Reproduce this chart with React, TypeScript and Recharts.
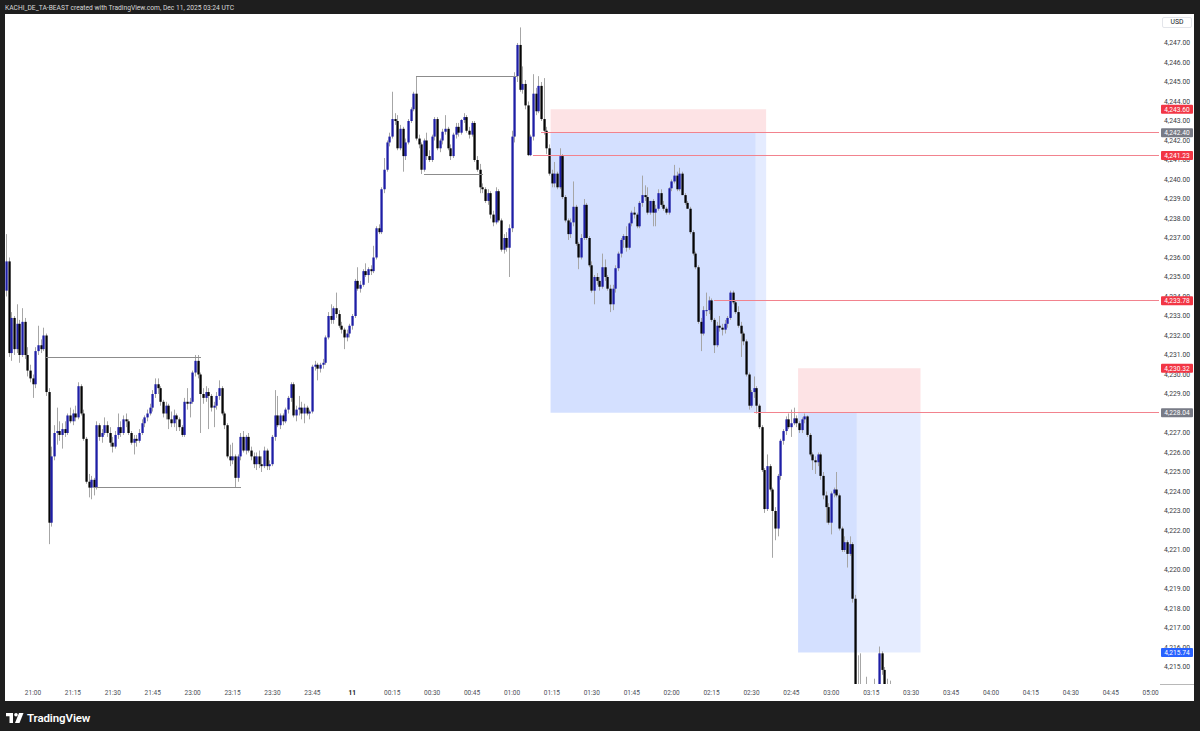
import React from 'react';
import { ComposedChart, Bar, XAxis, YAxis, ReferenceArea, ReferenceLine } from 'recharts';

type C = [number, number, number, number]; // open, high, low, close

// 1-minute candles, bar index -10 = 20:50
const bars2050: C[] = [
  [4234.3,4237.2,4234.0,4235.8],[4235.8,4236.0,4230.9,4231.1],[4231.1,4233.2,4230.7,4232.9],[4232.9,4233.0,4231.0,4231.3],
  [4231.3,4233.6,4231.1,4232.6],[4232.6,4232.8,4230.6,4231.0],[4231.0,4233.4,4230.9,4232.7],[4232.7,4232.9,4230.8,4231.0],
  [4231.0,4231.4,4229.9,4230.2],[4230.2,4230.5,4229.6,4229.8],
];
const bars2100: C[] = [
  [4229.8,4230.0,4228.8,4229.5],[4229.5,4231.4,4229.3,4231.2],[4231.2,4232.5,4231.0,4231.5],[4231.5,4231.8,4231.1,4231.3],
  [4231.3,4232.4,4231.2,4232.0],[4232.0,4232.1,4228.9,4229.1],[4229.1,4229.3,4221.3,4222.4],[4222.4,4226.3,4222.2,4225.8],
  [4225.8,4227.4,4225.6,4227.0],[4227.0,4228.3,4226.4,4227.1],[4227.1,4227.6,4226.6,4226.9],[4226.9,4227.5,4226.2,4227.2],
  [4227.2,4227.6,4226.8,4227.0],[4227.0,4228.0,4226.9,4227.9],[4227.9,4228.3,4227.5,4227.6],[4227.6,4228.2,4227.4,4228.0],
  [4228.0,4228.4,4227.6,4227.8],[4227.8,4229.6,4227.7,4229.4],[4229.4,4229.5,4227.9,4228.0],[4228.0,4228.2,4226.6,4226.7],
  [4226.7,4226.8,4224.4,4224.5],[4224.5,4224.9,4223.7,4224.2],[4224.2,4224.8,4223.6,4224.6],[4224.6,4224.7,4223.8,4224.2],
  [4224.2,4227.6,4224.1,4227.4],[4227.4,4227.5,4226.6,4226.8],[4226.8,4227.2,4226.5,4227.0],[4227.0,4227.8,4226.9,4227.4],
  [4227.4,4227.6,4226.8,4227.0],[4227.0,4227.3,4226.3,4226.5],[4226.5,4226.8,4226.0,4226.3],[4226.3,4227.1,4226.2,4226.9],
  [4226.9,4228.0,4226.7,4227.3],[4227.3,4227.6,4226.8,4227.0],[4227.0,4227.9,4226.9,4227.7],[4227.7,4228.0,4227.3,4227.6],
  [4227.6,4227.7,4226.9,4227.0],[4227.0,4227.1,4226.4,4226.5],[4226.5,4226.9,4225.9,4226.7],[4226.7,4226.9,4226.3,4226.6],
  [4226.6,4227.2,4226.5,4227.0],[4227.0,4227.7,4226.9,4227.5],[4227.5,4227.9,4227.3,4227.8],[4227.8,4228.2,4227.6,4228.0],
  [4228.0,4228.5,4227.9,4228.3],[4228.3,4229.2,4228.1,4229.0],[4229.0,4229.8,4228.8,4229.5],[4229.5,4229.8,4229.0,4229.3],
  [4229.3,4229.4,4228.4,4228.6],[4228.6,4228.7,4227.8,4228.0],[4228.0,4228.6,4227.7,4228.4],[4228.4,4228.5,4227.2,4227.7],
  [4227.7,4228.1,4227.3,4227.5],[4227.5,4228.2,4227.3,4227.9],[4227.9,4228.0,4227.1,4227.7],[4227.7,4227.8,4227.1,4227.3],
  [4227.3,4227.4,4226.8,4226.9],[4226.9,4228.8,4226.8,4228.6],[4228.6,4229.3,4228.2,4228.5],[4228.5,4228.8,4227.8,4228.6],
];
const bars2300: C[] = [
  [4228.6,4230.2,4228.5,4230.1],[4230.1,4231.0,4229.9,4230.7],[4230.7,4231.0,4229.8,4230.0],[4230.0,4230.1,4227.0,4229.0],
  [4229.0,4229.3,4228.5,4228.8],[4228.8,4229.4,4228.6,4229.1],[4229.1,4229.3,4227.2,4228.9],[4228.9,4229.0,4228.1,4228.3],
  [4228.3,4228.6,4227.3,4228.4],[4228.4,4229.1,4228.2,4228.9],[4228.9,4229.7,4228.7,4229.3],[4229.3,4229.4,4227.9,4228.0],
  [4228.0,4228.1,4227.2,4227.4],[4227.4,4227.5,4225.7,4225.8],[4225.8,4226.4,4225.3,4225.6],[4225.6,4226.5,4225.4,4225.8],
  [4225.8,4225.9,4224.2,4224.7],[4224.7,4225.9,4224.5,4225.8],[4225.8,4227.0,4225.6,4226.8],[4226.8,4227.1,4226.0,4226.1],
  [4226.1,4226.9,4225.9,4226.8],[4226.8,4227.0,4226.0,4226.1],[4226.1,4226.3,4225.6,4225.8],[4225.8,4226.0,4225.2,4225.4],
  [4225.4,4226.0,4225.1,4225.8],[4225.8,4226.1,4225.2,4225.4],[4225.4,4225.8,4225.0,4225.3],[4225.3,4226.3,4225.2,4226.1],
  [4226.1,4226.2,4225.1,4225.3],[4225.3,4225.6,4225.1,4225.4],[4225.4,4226.9,4225.3,4226.8],[4226.8,4229.2,4226.6,4227.9],
  [4227.9,4228.9,4227.3,4227.4],[4227.4,4228.0,4227.2,4227.9],[4227.9,4228.0,4227.4,4227.6],[4227.6,4228.3,4227.5,4228.2],
  [4228.2,4228.9,4228.0,4228.8],[4228.8,4229.6,4228.6,4229.5],[4229.5,4229.6,4227.8,4227.9],[4227.9,4228.4,4227.6,4228.2],
  [4228.2,4228.9,4227.9,4228.3],[4228.3,4228.6,4227.7,4228.0],[4228.0,4228.5,4227.5,4228.3],[4228.3,4228.4,4227.9,4228.0],
  [4228.0,4228.2,4227.7,4228.1],[4228.1,4230.5,4228.0,4230.4],[4230.4,4230.7,4230.2,4230.5],[4230.5,4230.6,4229.7,4230.3],
  [4230.3,4230.6,4230.1,4230.5],[4230.5,4230.8,4230.3,4230.6],[4230.6,4232.0,4230.5,4231.9],[4231.9,4233.2,4231.8,4233.0],
  [4233.0,4233.6,4232.6,4232.8],[4232.8,4233.5,4232.6,4233.4],[4233.4,4234.2,4232.9,4233.1],[4233.1,4233.3,4232.4,4232.5],
  [4232.5,4232.7,4232.1,4232.3],[4232.3,4232.4,4231.3,4231.9],[4231.9,4232.3,4231.7,4232.1],[4232.1,4232.6,4231.9,4232.5],
];
const bars0000: C[] = [
  [4232.5,4233.1,4232.3,4233.0],[4233.0,4234.9,4232.9,4234.8],[4234.8,4235.5,4234.3,4234.4],[4234.4,4234.8,4234.2,4234.6],
  [4234.6,4235.4,4234.5,4235.3],[4235.3,4235.7,4235.0,4235.1],[4235.1,4235.5,4234.7,4235.4],[4235.4,4235.6,4235.1,4235.3],
  [4235.3,4236.6,4235.2,4236.0],[4236.0,4237.6,4235.9,4237.5],[4237.5,4237.7,4237.2,4237.3],[4237.3,4239.6,4237.2,4239.5],
  [4239.5,4241.1,4239.3,4240.5],[4240.5,4242.0,4240.4,4241.9],[4241.9,4242.4,4241.7,4242.2],[4242.2,4244.5,4242.1,4243.1],
  [4243.1,4243.4,4242.8,4243.0],[4243.0,4243.3,4241.5,4241.6],[4241.6,4242.8,4241.5,4242.6],[4242.6,4242.7,4240.4,4241.2],
  [4241.2,4242.1,4241.0,4241.9],[4241.9,4243.1,4241.8,4243.0],[4243.0,4243.7,4242.9,4243.6],[4243.6,4244.5,4243.5,4244.4],
  [4244.4,4245.26,4242.0,4242.1],[4242.1,4242.3,4241.6,4241.8],[4241.8,4241.9,4240.28,4240.5],[4240.5,4242.1,4240.4,4242.0],
  [4242.0,4242.4,4241.0,4241.2],[4241.2,4241.5,4240.9,4241.0],[4241.0,4242.3,4240.9,4242.2],[4242.2,4243.2,4242.0,4243.1],
  [4243.1,4243.2,4241.5,4241.6],[4241.6,4242.1,4241.4,4242.0],[4242.0,4242.6,4241.8,4242.45],[4242.45,4243.3,4242.3,4242.6],
  [4242.6,4242.7,4241.5,4241.6],[4241.6,4241.8,4241.0,4241.2],[4241.2,4242.4,4241.1,4242.3],[4242.3,4242.9,4242.1,4242.7],
  [4242.7,4242.9,4242.2,4242.4],[4242.4,4243.1,4242.3,4243.05],[4243.05,4243.4,4242.9,4243.2],[4243.2,4243.3,4242.4,4242.5],
  [4242.5,4242.7,4242.1,4242.3],[4242.3,4243.0,4242.2,4242.9],[4242.9,4243.0,4240.9,4241.0],[4241.0,4241.2,4240.4,4240.5],
  [4240.5,4240.8,4239.3,4239.6],[4239.6,4239.8,4239.3,4239.5],[4239.5,4239.6,4238.8,4238.9],[4238.9,4239.5,4238.7,4239.3],
  [4239.3,4239.4,4238.0,4238.2],[4238.2,4238.4,4237.6,4237.8],[4237.8,4239.6,4237.7,4239.4],[4239.4,4239.5,4237.8,4237.9],
  [4237.9,4238.0,4236.3,4236.4],[4236.4,4237.2,4236.2,4237.0],[4237.0,4237.3,4236.3,4236.5],[4236.5,4237.7,4235.0,4237.5],
];
const bars0100: C[] = [
  [4237.5,4242.5,4237.3,4242.2],[4242.2,4245.5,4241.9,4245.3],[4245.3,4247.0,4245.0,4246.9],[4246.9,4247.8,4244.5,4244.6],
  [4244.6,4245.8,4244.4,4244.9],[4244.9,4245.1,4243.6,4243.8],[4243.8,4244.0,4241.2,4241.25],[4241.25,4242.3,4241.2,4242.2],
  [4242.2,4245.4,4242.0,4244.4],[4244.4,4244.7,4243.3,4243.5],[4243.5,4245.3,4243.4,4244.8],[4244.8,4245.0,4243.0,4243.1],
  [4243.1,4245.2,4242.3,4242.5],[4242.5,4242.7,4241.3,4241.6],[4241.6,4241.8,4240.2,4240.3],[4240.3,4240.5,4239.6,4239.8],
  [4239.8,4240.9,4239.6,4240.3],[4240.3,4240.4,4239.5,4239.6],[4239.6,4241.6,4239.5,4241.2],[4241.2,4241.3,4239.0,4239.1],
  [4239.1,4239.2,4237.8,4237.9],[4237.9,4238.0,4236.9,4237.2],[4237.2,4238.0,4237.0,4237.8],[4237.8,4239.9,4237.6,4238.6],
  [4238.6,4238.7,4236.6,4236.7],[4236.7,4236.8,4235.4,4236.0],[4236.0,4237.2,4235.9,4237.0],[4237.0,4239.0,4236.9,4238.7],
  [4238.7,4238.8,4236.9,4237.0],[4237.0,4237.1,4235.5,4235.6],[4235.6,4235.8,4234.2,4234.3],[4234.3,4235.1,4233.6,4235.0],
  [4235.0,4235.2,4234.6,4234.8],[4234.8,4235.0,4234.3,4234.5],[4234.5,4236.2,4234.4,4235.5],[4235.5,4235.9,4234.8,4235.0],
  [4235.0,4235.1,4234.3,4234.4],[4234.4,4234.6,4233.2,4233.6],[4233.6,4234.6,4233.3,4234.4],[4234.4,4235.6,4234.2,4235.45],
  [4235.45,4236.3,4235.3,4236.2],[4236.2,4237.0,4236.0,4236.9],[4236.9,4237.2,4236.5,4237.1],[4237.1,4237.6,4236.3,4236.5],
  [4236.5,4237.8,4236.4,4237.75],[4237.75,4238.4,4237.6,4238.3],[4238.3,4238.6,4238.0,4238.2],[4238.2,4238.3,4237.5,4237.6],
  [4237.6,4238.9,4237.5,4238.8],[4238.8,4240.2,4238.6,4239.2],[4239.2,4239.7,4238.9,4239.1],[4239.1,4239.6,4238.2,4238.3],
  [4238.3,4238.9,4238.2,4238.9],[4238.9,4239.0,4237.6,4238.3],[4238.3,4238.7,4237.6,4238.5],[4238.5,4239.5,4238.4,4239.3],
  [4239.3,4239.5,4238.6,4238.7],[4238.7,4238.9,4238.4,4238.5],[4238.5,4238.6,4238.2,4238.3],[4238.3,4239.6,4238.2,4239.55],
];
const bars0200: C[] = [
  [4239.55,4240.0,4239.4,4239.9],[4239.9,4240.75,4239.8,4240.2],[4240.2,4240.4,4239.4,4239.5],[4239.5,4240.6,4239.4,4240.3],
  [4240.3,4240.4,4239.2,4239.2],[4239.2,4239.3,4238.7,4238.8],[4238.8,4238.9,4238.5,4238.5],[4238.5,4238.6,4237.2,4237.3],
  [4237.3,4237.4,4236.1,4236.2],[4236.2,4236.3,4235.4,4235.5],[4235.5,4235.6,4232.6,4232.7],[4232.7,4232.9,4231.2,4232.1],
  [4232.1,4233.5,4232.0,4233.3],[4233.3,4234.2,4233.0,4233.3],[4233.3,4234.0,4233.1,4233.8],[4233.8,4233.9,4232.7,4232.8],
  [4232.8,4232.9,4231.1,4231.5],[4231.5,4232.7,4231.4,4232.5],[4232.5,4233.0,4232.2,4232.4],[4232.4,4232.6,4232.0,4232.3],
  [4232.3,4232.8,4232.1,4232.6],[4232.6,4233.0,4232.4,4232.9],[4232.9,4234.3,4232.8,4234.2],[4234.2,4234.3,4233.6,4233.7],
  [4233.7,4233.8,4233.1,4233.2],[4233.2,4233.5,4232.4,4232.5],[4232.5,4232.7,4230.9,4232.1],[4232.1,4232.2,4231.5,4231.7],
  [4231.7,4231.8,4229.9,4230.0],[4230.0,4230.1,4228.2,4228.4],[4228.4,4229.2,4228.3,4229.1],[4229.1,4229.9,4228.8,4229.3],
  [4229.3,4229.4,4228.0,4228.4],[4228.4,4228.5,4227.2,4227.3],[4227.3,4227.4,4225.0,4225.1],[4225.1,4225.2,4222.9,4223.1],
  [4223.1,4225.9,4223.0,4225.3],[4225.3,4225.4,4224.0,4224.1],[4224.1,4224.2,4220.6,4223.0],[4223.0,4223.2,4221.5,4222.1],
  [4222.1,4224.9,4221.7,4224.8],[4224.8,4226.7,4224.6,4226.6],[4226.6,4227.2,4226.4,4227.1],[4227.1,4227.85,4226.9,4227.7],
  [4227.7,4228.0,4227.2,4227.3],[4227.3,4228.2,4226.8,4227.5],[4227.5,4228.3,4227.4,4227.75],[4227.75,4227.9,4227.3,4227.5],
  [4227.5,4227.6,4227.0,4227.15],[4227.15,4227.8,4227.0,4227.7],[4227.7,4228.0,4227.5,4227.85],[4227.85,4227.9,4226.8,4226.9],
  [4226.9,4227.0,4225.8,4225.9],[4225.9,4226.0,4225.1,4225.6],[4225.6,4225.8,4224.9,4225.5],[4225.5,4226.0,4225.3,4225.9],
  [4225.9,4226.0,4224.6,4224.8],[4224.8,4225.0,4223.6,4223.8],[4223.8,4224.0,4222.4,4223.2],[4223.2,4223.4,4222.3,4222.4],
];
const bars0300: C[] = [
  [4222.4,4224.0,4221.8,4223.9],[4223.9,4224.2,4223.7,4224.1],[4224.1,4225.0,4223.7,4223.8],[4223.8,4223.9,4222.0,4222.1],
  [4222.1,4222.2,4220.9,4221.0],[4221.0,4221.7,4220.9,4221.4],[4221.4,4221.5,4220.1,4220.8],[4220.8,4221.7,4220.7,4221.3],
  [4221.3,4221.4,4218.3,4218.5],[4218.5,4218.7,4213.0,4213.8],[4213.8,4215.6,4213.5,4214.0],[4214.0,4215.7,4213.6,4213.9],
  [4213.9,4214.1,4213.6,4213.8],[4213.8,4214.5,4213.6,4213.9],[4213.9,4214.1,4213.5,4213.8],[4213.8,4214.0,4213.4,4213.7],
  [4213.7,4214.4,4213.6,4213.9],[4213.9,4214.1,4213.5,4213.8],[4213.8,4216.05,4213.7,4215.7],[4215.7,4215.8,4214.6,4214.85],
  [4214.85,4215.0,4213.8,4214.0],[4214.0,4214.4,4213.8,4214.1],[4214.1,4214.3,4213.7,4213.9],
];

const timeLabels = ['21:00','21:15','21:30','21:45','23:00','23:15','23:30','23:45','11','00:15','00:30','00:45','01:00','01:15','01:30','01:45','02:00','02:15','02:30','02:45','03:00','03:15','03:30','03:45','04:00','04:15','04:30','04:45','05:00'];
const priceTicks = [4215,4216,4217,4218,4219,4220,4221,4222,4223,4224,4225,4226,4227,4228,4229,4230,4231,4232,4233,4234,4235,4236,4237,4238,4239,4240,4241,4242,4243,4244,4245,4246,4247];

// price-scale markers
const levelPrices = [4243.60, 4242.40, 4241.23, 4233.78, 4230.32, 4228.04, 4215.74];
const levelColors = ['#f23645', '#787b86', '#f23645', '#f23645', '#f23645', '#787b86', '#2962ff'];
const levelLineFrom: (number | null)[] = [null, 191, 188, 256, null, 271, null];

// grey horizontal drawings
const drawPrices = [4230.85, 4224.18, 4245.26, 4240.28];
const drawFrom = [5, 23, 144, 147];
const drawTo = [63, 78, 182, 169];

// short-position tools
const posEntry = [4242.40, 4228.04];
const posStop = [4243.60, 4230.32];
const posTarget = [4228.04, 4215.74];
const posFrom = [195, 288];
const posFilledTo = [271, 309];
const posTo = [275, 333];

const FIRST = -10;
const SLOTS = 434;
const Y_MIN = 4214.128;
const Y_MAX = 4248.487;

const allBars: C[] = [...bars2050, ...bars2100, ...bars2300, ...bars0000, ...bars0100, ...bars0200, ...bars0300];
const rows = Array.from({ length: SLOTS }, (_, k) => {
  const i = k + FIRST;
  const b = allBars[k];
  return b ? { i, o: b[0], h: b[1], l: b[2], c: b[3], range: [b[2], b[1]] } : { i };
});

// normal ticks first, the coloured level boxes last so they are painted on top
const axisTicks = [...priceTicks, ...levelPrices];

const fmt = (v: number) => v.toLocaleString('en-US', { minimumFractionDigits: 2, maximumFractionDigits: 2 });

function Candle(props: any) {
  const { x, y, width, height, payload } = props;
  if (!payload || payload.o == null || !isFinite(y) || !isFinite(height)) return null;
  const top = Math.min(y, y + height);
  const bot = Math.max(y, y + height);
  const span = payload.h - payload.l;
  const ppu = span > 0 ? (bot - top) / span : 0;
  const cx = Math.round(x + width / 2 - 0.5);
  const yo = top + (payload.h - payload.o) * ppu;
  const yc = top + (payload.h - payload.c) * ppu;
  const up = payload.c >= payload.o;
  const bTop = Math.min(yo, yc);
  const bH = Math.max(Math.abs(yc - yo), 1);
  return (
    <g>
      <line x1={cx + 0.5} x2={cx + 0.5} y1={top} y2={bot} stroke="#a6a6a6" strokeWidth={1} />
      <rect x={cx - 0.6} y={bTop} width={2.3} height={bH} fill={up ? '#1e1ea6' : '#050505'} />
    </g>
  );
}

const XTick = (props: any) => {
  const v = props.payload?.value;
  if (typeof v !== 'number' || v < 0 || v % 15 !== 0) return <g />;
  const label = timeLabels[v / 15];
  if (!label) return <g />;
  const bold = label === '11';
  return (
    <text x={props.x} y={680.5} textAnchor="middle" fontSize={6.5} fontFamily="Roboto, sans-serif"
      fill={bold ? '#131722' : '#4c4f57'} fontWeight={bold ? 700 : 400}>{label}</text>
  );
};

const YTick = (props: any) => {
  const v = props.payload.value as number;
  const li = levelPrices.indexOf(v);
  if (li >= 0) {
    return (
      <g>
        <rect x={1156} y={props.y - 4.5} width={32} height={9} rx={1} fill={levelColors[li]} />
        <text x={1172} y={props.y + 2.4} textAnchor="middle" fontSize={6.6} fontFamily="Roboto, sans-serif" fill="#ffffff">{fmt(v)}</text>
      </g>
    );
  }
  return (
    <text x={1159} y={props.y + 2.4} fontSize={6.8} fontFamily="Roboto, sans-serif" fill="#3a3d45">{fmt(v)}</text>
  );
};

export default function App() {
  return (
    <div style={{ position: 'fixed', left: 0, top: 0, width: 1200, height: 731, background: '#1e1e1e', overflow: 'hidden', fontFamily: 'Roboto, sans-serif' }}>
      <div style={{ position: 'absolute', left: 5, top: 4, fontSize: 6.7, color: '#d8d8d8', lineHeight: '8px', whiteSpace: 'nowrap' }}>
        KACHI_DE_TA-BEAST created with TradingView.com, Dec 11, 2025 03:24 UTC
      </div>
      <div style={{ position: 'absolute', left: 5, top: 14, width: 1189, height: 687, background: '#ffffff' }}>
        <ComposedChart width={1189} height={687} data={rows} margin={{ top: 0, right: 0, bottom: 0, left: 0 }} barCategoryGap={0} barGap={0}>
          <XAxis dataKey="i" type="category" interval={0} height={17} tickLine={false} axisLine={false} tick={<XTick />} />
          <YAxis orientation="right" width={34} type="number" domain={[Y_MIN, Y_MAX]} allowDataOverflow ticks={axisTicks}
            interval={0} tickLine={false} axisLine={false} tick={<YTick />} />
          <Bar dataKey="range" isAnimationActive={false} shape={<Candle />} />
          {posFrom.map((f, k) => (
            <ReferenceArea key={'s' + k} x1={f} x2={posTo[k]} y1={posEntry[k]} y2={posStop[k]}
              fill="rgb(242,54,69)" fillOpacity={0.14} stroke="none" />
          ))}
          {posFrom.map((f, k) => (
            <ReferenceArea key={'t' + k} x1={f} x2={posFilledTo[k]} y1={posTarget[k]} y2={posEntry[k]}
              fill="rgb(41,98,255)" fillOpacity={0.2} stroke="none" />
          ))}
          {posFrom.map((f, k) => (
            <ReferenceArea key={'u' + k} x1={posFilledTo[k] + 1} x2={posTo[k]} y1={posTarget[k]} y2={posEntry[k]}
              fill="rgb(41,98,255)" fillOpacity={0.12} stroke="none" />
          ))}
          {drawPrices.map((p, k) => (
            <ReferenceLine key={'d' + k} segment={[{ x: drawFrom[k], y: p }, { x: drawTo[k], y: p }]} stroke="#8c8c8c" strokeWidth={1} shapeRendering="crispEdges" />
          ))}
          {levelPrices.map((p, k) => {
            const from = levelLineFrom[k];
            return from != null ? (
              <ReferenceLine key={'l' + k} segment={[{ x: from, y: p }, { x: SLOTS + FIRST - 1, y: p }]} stroke="#f2838e" strokeWidth={1} shapeRendering="crispEdges" />
            ) : null;
          })}
        </ComposedChart>
      </div>
      <div style={{ position: 'absolute', left: 1162, top: 17, width: 30, height: 11, border: '1px solid #e3e5ea', boxSizing: 'border-box', borderRadius: 2, fontSize: 6.8, color: '#131722', textAlign: 'center', lineHeight: '9px' }}>USD</div>
      <div style={{ position: 'absolute', left: 1160, top: 684, width: 34, height: 1, background: '#b8b8b8' }} />
      <svg style={{ position: 'absolute', left: 6, top: 713 }} width={18} height={10}>
        <path d="M0 0 H7 V10 H3.5 V3.3 H0 Z" fill="#ffffff" />
        <circle cx={10} cy={1.8} r={1.8} fill="#ffffff" />
        <path d="M13 0 H17.5 L13.5 10 H9 Z" fill="#ffffff" />
      </svg>
      <div style={{ position: 'absolute', left: 27, top: 711, fontSize: 11.5, fontWeight: 600, color: '#ffffff', lineHeight: '14px', letterSpacing: '-0.1px' }}>TradingView</div>
    </div>
  );
}
